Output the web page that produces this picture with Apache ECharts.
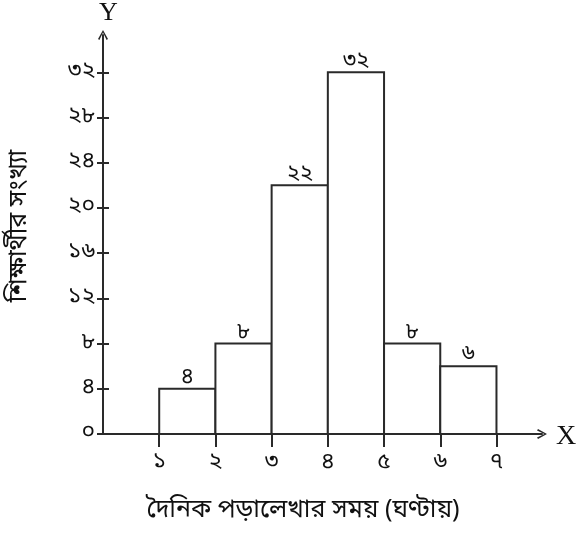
<!DOCTYPE html>
<html><head><meta charset="utf-8">
<script src="https://cdn.jsdelivr.net/npm/echarts@6/dist/echarts.min.js"></script>
<style>html,body{margin:0;padding:0;background:#fff}#c{width:584px;height:536px}</style>
</head><body><div id="c"></div>
<script>
const classStarts = [1, 2, 3, 4, 5, 6];
const classEnds = [2, 3, 4, 5, 6, 7];
const counts = [4, 8, 22, 32, 8, 6];
const xTickValues = [1, 2, 3, 4, 5, 6, 7];
const yTickValues = [0, 4, 8, 12, 16, 20, 24, 28, 32];
const xAxisTitle = 'দৈনিক পড়ালেখার সময় (ঘণ্টায়)';
const yAxisTitle = 'শিক্ষার্থীর সংখ্যা';
const bnDigits = ['০','১','২','৩','৪','৫','৬','৭','৮','৯'];
function toBn(n){ return String(n).replace(/[0-9]/g, d => bnDigits[+d]); }

const FONT = '"Noto Sans Bengali","Noto Serif Bengali","Lohit Bengali","Liberation Serif",serif';
const INK = '#2a2a2a';
const chevron = 'path://M5,0 L10,9 L8.6,10 L5,2.6 L1.4,10 L0,9 Z';

const data = classStarts.map((s, i) => [s, classEnds[i], counts[i]]);
const chart = echarts.init(document.getElementById('c'));
chart.setOption({
  animation: false,
  backgroundColor: '#fff',
  grid: { left: 103, right: 42, top: 35, bottom: 102, containLabel: false, outerBoundsMode: 'none' },
  xAxis: {
    type: 'value', min: 0, max: 7.81,
    splitLine: { show: false },
    axisLine: { show: true, onZero: false, symbol: ['none', chevron], symbolSize: [10, 12], lineStyle: { color: INK, width: 2 } },
    axisTick: { show: true, customValues: xTickValues, length: 13, lineStyle: { color: INK, width: 2 } },
    axisLabel: { show: true, customValues: xTickValues, margin: 18, formatter: v => toBn(v), color: '#111', fontSize: 23, fontFamily: FONT }
  },
  yAxis: [{
    type: 'value', min: 0, max: 35.3,
    splitLine: { show: false },
    axisLine: { show: true, symbol: ['none', chevron], symbolSize: [10, 12], lineStyle: { color: INK, width: 2 } },
    axisTick: { show: true, customValues: yTickValues, length: 6, lineStyle: { color: INK, width: 2 } },
    axisLabel: { show: true, customValues: yTickValues, margin: 8, formatter: v => toBn(v), color: '#111', fontSize: 23, fontFamily: FONT }
  }, {
    type: 'value', min: 0, max: 35.3, position: 'left', offset: 0,
    splitLine: { show: false },
    axisLine: { show: false },
    axisTick: { show: true, inside: true, customValues: yTickValues.slice(1), length: 6, lineStyle: { color: INK, width: 2 } },
    axisLabel: { show: false }
  }],
  graphic: [
    { type: 'text', left: 99, top: 0, style: { text: 'Y', font: '26px "Liberation Serif", serif', fill: '#111' } },
    { type: 'text', left: 556, top: 423, style: { text: 'X', font: '28px "Liberation Serif", serif', fill: '#111' } },
    { type: 'text', x: 303, y: 512, style: { text: xAxisTitle, align: 'center', verticalAlign: 'middle', font: '25px ' + FONT, fill: '#111' } },
    { type: 'text', x: 21, y: 226, rotation: Math.PI / 2, style: { text: yAxisTitle, align: 'center', verticalAlign: 'middle', font: '25px ' + FONT, fill: '#111' } }
  ],
  series: [{
    type: 'custom',
    data: data,
    encode: { x: [0, 1], y: 2 },
    renderItem: function (params, api) {
      const x0 = api.value(0), x1 = api.value(1), v = api.value(2);
      const p0 = api.coord([x0, v]);
      const p1 = api.coord([x1, 0]);
      return {
        type: 'group',
        children: [
          { type: 'rect', shape: { x: p0[0], y: p0[1], width: p1[0] - p0[0], height: p1[1] - p0[1] },
            style: { fill: '#fff', stroke: INK, lineWidth: 2 } },
          { type: 'text', style: { text: toBn(v), x: (p0[0] + p1[0]) / 2, y: p0[1] + 1,
            align: 'center', verticalAlign: 'bottom', fill: '#111', font: '22px ' + FONT } }
        ]
      };
    }
  }]
});
</script></body></html>
